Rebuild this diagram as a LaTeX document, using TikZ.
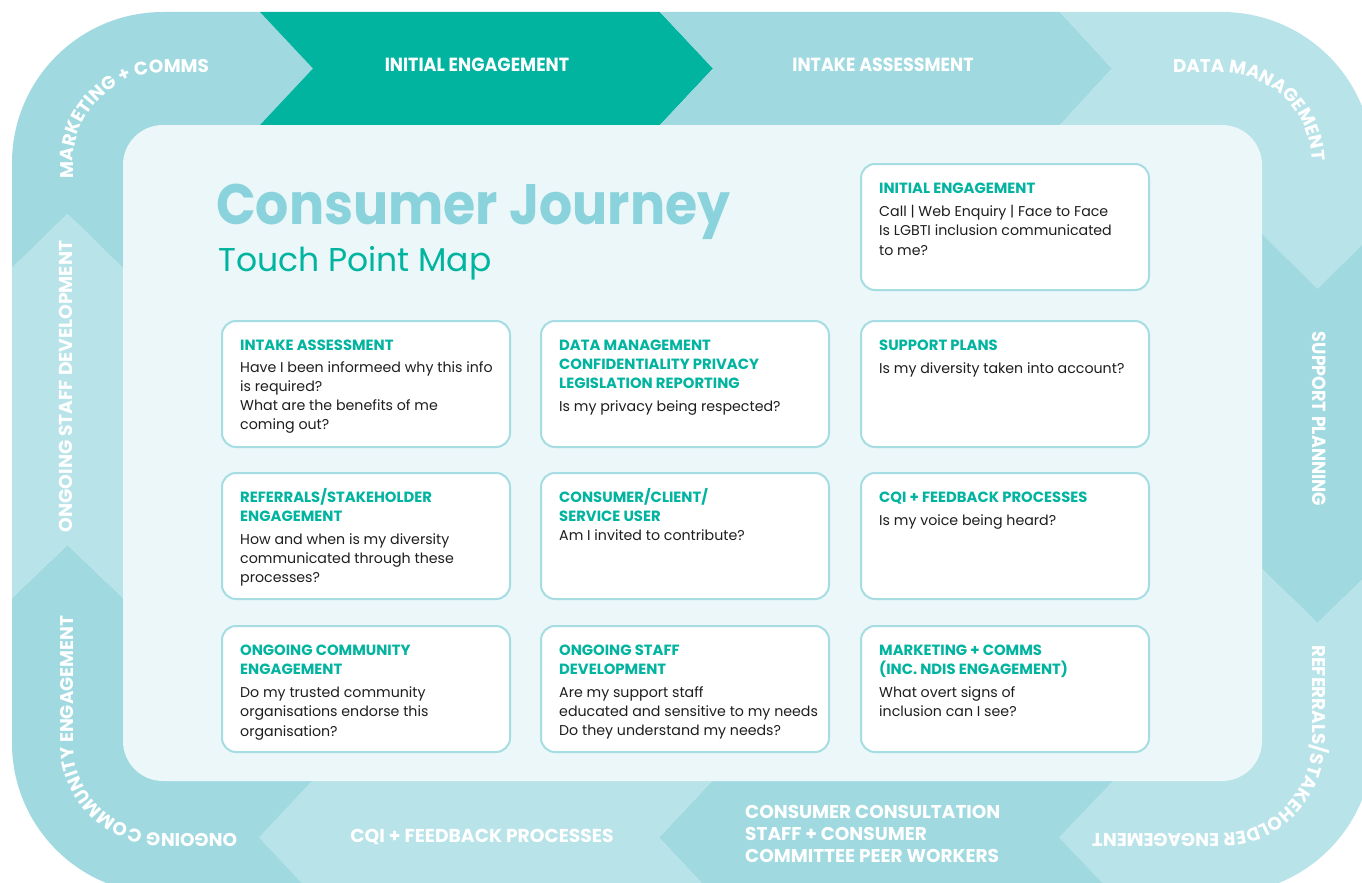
\documentclass[tikz,border=0pt]{standalone}
\usepackage{fontspec}
\setmainfont{Poppins}
\newfontfamily\condfont[FakeStretch=0.92]{Poppins}
\newfontfamily\headfont[FakeStretch=0.915]{Poppins}
\usetikzlibrary{decorations.text}

\definecolor{ringdark}{HTML}{A0DAE0}
\definecolor{ringlight}{HTML}{B8E3E8}
\definecolor{tealmain}{HTML}{00B4A0}
\definecolor{panelbg}{HTML}{EBF7F9}
\definecolor{cardline}{HTML}{A6DDE3}
\definecolor{headcol}{HTML}{8BD3DC}
\definecolor{bodytext}{HTML}{1E1E1E}

\tikzset{
  cardbox/.style={draw=cardline, line width=2pt, fill=white, rounded corners=14pt,
    minimum width=288pt, minimum height=126pt, inner sep=0pt, anchor=north west},
  cardtext/.style={inner sep=0pt, anchor=base west},
  bandlabel/.style={text=white, inner sep=0pt, anchor=base,
    font=\fontsize{18.7}{18.7}\selectfont\bfseries},
  bandcond/.style={text=white, inner sep=0pt, anchor=base,
    font=\condfont\fontsize{19}{19}\selectfont\bfseries},
  ringtext/.style={decorate, rounded corners=90pt,
    decoration={text along path, text align=left,
      text={|\fontsize{18.4}{18.4}\selectfont\bfseries\color{white}|#1}}},
}

\newcommand{\cardtitlefont}{\fontsize{14.8}{19}\selectfont\bfseries\color{tealmain}}
\newcommand{\cardbodyfont}{\fontsize{14.2}{19.2}\selectfont\color{bodytext}}
% \tpcard{name}{x}{y}{heading}{question}{gap}
\newcommand{\tpcard}[6]{%
  \node[cardbox] (#1) at (#2,#3) {};
  \node[cardtext] (#1-txt) at ([xshift=19pt,yshift=-30pt]#1.north west)
    {\parbox[t]{266pt}{\raggedright\leavevmode{\cardtitlefont #4\par}\vspace{#6}{\leavevmode\cardbodyfont #5\par}}};
}

\begin{document}
\begin{tikzpicture}[x=1pt,y=-1pt]
\useasboundingbox (0,0) rectangle (1362,883);
\clip (0,0) rectangle (1362,883);
\fill[white] (0,0) rectangle (1362,883);

% ---- outer ring, cut into chevron segments ----
\begin{scope}
\clip[rounded corners=151pt] (12,12) rectangle (1373,894);
% marketing + comms (top-left corner)
\fill[ringdark] (-100,-100) -- (260,-100) -- (260,12) -- (313,68.5) -- (260,125)
  -- (260,268) -- (123,268) -- (67.5,214) -- (12,268) -- (-100,268) -- cycle;
% initial engagement
\fill[tealmain] (260,-100) -- (660,-100) -- (660,12) -- (713,68.5) -- (660,125)
  -- (660,300) -- (260,300) -- (260,125) -- (313,68.5) -- (260,12) -- cycle;
% intake assessment
\fill[ringdark] (660,-100) -- (1060,-100) -- (1060,12) -- (1112,68.5) -- (1060,125)
  -- (1060,300) -- (660,300) -- (660,125) -- (713,68.5) -- (660,12) -- cycle;
% data management (top-right corner)
\fill[ringlight] (1060,-100) -- (1500,-100) -- (1500,234) -- (1373,234) -- (1317.5,289)
  -- (1262,234) -- (1060,234) -- (1060,125) -- (1112,68.5) -- (1060,12) -- cycle;
% support planning
\fill[ringdark] (1262,234) -- (1317.5,289) -- (1373,234) -- (1500,234) -- (1500,569)
  -- (1373,569) -- (1317.5,623) -- (1262,569) -- (1100,569) -- (1100,234) -- cycle;
% referrals / stakeholder engagement (bottom-right corner)
\fill[ringlight] (1262,569) -- (1317.5,623) -- (1373,569) -- (1500,569) -- (1500,1000)
  -- (1113,1000) -- (1113,894) -- (1059,837.5) -- (1113,781) -- (1113,569) -- cycle;
% consumer consultation
\fill[ringdark] (1113,1000) -- (712,1000) -- (712,894) -- (659,837.5) -- (712,781)
  -- (712,600) -- (1113,600) -- (1113,781) -- (1059,837.5) -- (1113,894) -- cycle;
% cqi + feedback processes
\fill[ringlight] (712,1000) -- (312,1000) -- (312,894) -- (259,837.5) -- (312,781)
  -- (312,600) -- (712,600) -- (712,781) -- (659,837.5) -- (712,894) -- cycle;
% ongoing community engagement (bottom-left corner)
\fill[ringdark] (312,1000) -- (-100,1000) -- (-100,598) -- (12,598) -- (67.5,545)
  -- (123,598) -- (312,598) -- (312,781) -- (259,837.5) -- (312,894) -- cycle;
% ongoing staff development
\fill[ringlight] (-100,598) -- (12,598) -- (67.5,545) -- (123,598) -- (200,598)
  -- (200,268) -- (123,268) -- (67.5,214) -- (12,268) -- (-100,268) -- cycle;
\end{scope}

% ---- inner panel ----
\fill[panelbg, rounded corners=40pt] (123,125) rectangle (1262,781);

% ---- straight ring labels ----
\node[bandcond] (lbl-init) at (477,71) {INITIAL ENGAGEMENT};
\node[bandcond] (lbl-intake) at (883,71) {INTAKE ASSESSMENT};
\node[bandcond, rotate=-90] (lbl-support) at (1312,419) {SUPPORT PLANNING};
\node[bandlabel, rotate=90] (lbl-staff) at (72,386.5) {ONGOING STAFF DEVELOPMENT};
\node[bandlabel] (lbl-cqi) at (482,842) {CQI + FEEDBACK PROCESSES};
\node[bandlabel, anchor=base west] (lbl-consult) at (745,818)
  {\parbox[t]{320pt}{\fontsize{18.5}{22}\selectfont CONSUMER CONSULTATION\\STAFF + CONSUMER\\COMMITTEE PEER WORKERS}};

% ---- ring labels that follow the corners ----
\path[ringtext={MARKETING + COMMS}] (73,178) -- (73,73) -- (420,73);
\path[ringtext={DATA MANAGEMENT}] (1173,73) -- (1312,73) -- (1312,420);
\path[ringtext={REFERRALS/STAKEHOLDER ENGAGEMENT}] (1312,645) -- (1312,833) -- (900,833);
\path[ringtext={ONGOING COMMUNITY ENGAGEMENT}] (237,833) -- (73,833) -- (73,420);

% ---- heading ----
\node[anchor=base west, inner sep=0pt, text=headcol,
  font=\headfont\fontsize{57}{57}\selectfont\bfseries] (heading) at (216,224) {Consumer Journey};
\node[anchor=base west, inner sep=0pt, text=tealmain,
  font=\fontsize{33}{33}\selectfont] (subheading) at (218,271) {Touch Point Map};

% ---- touch point cards ----
\tpcard{c-init}{860}{163}{INITIAL ENGAGEMENT}{Call | Web Enquiry | Face to Face\\Is LGBTI inclusion communicated\\to me?}{4.5pt}
\tpcard{c-intake}{221}{320}{INTAKE ASSESSMENT}{Have I been informeed why this info\\is required?\\What are the benefits of me\\coming out?}{3pt}
\tpcard{c-data}{540}{320}{DATA MANAGEMENT\\CONFIDENTIALITY PRIVACY\\LEGISLATION REPORTING}{Is my privacy being respected?}{4.5pt}
\tpcard{c-support}{860}{320}{SUPPORT PLANS}{Is my diversity taken into account?}{4.5pt}
\tpcard{c-refer}{221}{472}{REFERRALS/STAKEHOLDER\\ENGAGEMENT}{How and when is my diversity\\communicated through these\\processes?}{4pt}
\tpcard{c-consumer}{540}{472}{CONSUMER/CLIENT/\\SERVICE USER}{Am I invited to contribute?}{0pt}
\tpcard{c-cqi}{860}{472}{CQI + FEEDBACK PROCESSES}{Is my voice being heard?}{4.5pt}
\tpcard{c-community}{221}{625}{ONGOING COMMUNITY\\ENGAGEMENT}{Do my trusted community\\organisations endorse this\\organisation?}{4.5pt}
\tpcard{c-staff}{540}{625}{ONGOING STAFF\\DEVELOPMENT}{Are my support staff\\educated and sensitive to my needs\\Do they understand my needs?}{4pt}
\tpcard{c-marketing}{860}{625}{MARKETING + COMMS\\(INC. NDIS ENGAGEMENT)}{What overt signs of\\inclusion can I see?}{4pt}
\end{tikzpicture}
\end{document}
